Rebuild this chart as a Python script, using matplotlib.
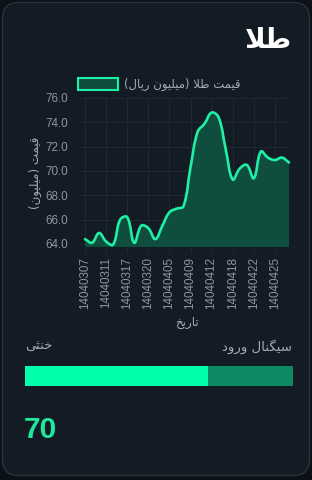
import matplotlib
matplotlib.use("Agg")
import matplotlib.pyplot as plt
from matplotlib.path import Path
from matplotlib.patches import PathPatch, FancyBboxPatch, Rectangle


dates = ["14040307", "14040308", "14040310", "14040311", "14040313", "14040314",
         "14040317", "14040318", "14040319", "14040320", "14040321", "14040401",
         "14040405", "14040406", "14040408", "14040409", "14040410", "14040411",
         "14040412", "14040415", "14040416", "14040418", "14040419", "14040421",
         "14040422", "14040423", "14040424", "14040425", "14040428", "14040429"]
prices = [64.4, 64.1, 64.9, 64.2, 63.95, 66.0, 66.2, 64.1, 65.5, 65.3,
          64.4, 65.5, 66.6, 66.9, 67.1, 70.3, 73.2, 73.9, 74.8, 74.4,
          71.8, 69.3, 70.2, 70.5, 69.4, 71.6, 71.1, 70.9, 71.1, 70.7]
y_ticks = [64, 66, 68, 70, 72, 74, 76]
signal_value = 70
bar_fill = 68.3  # percent of the signal bar that is lit

BG_OUT = "#0c1117"
CARD = "#131b24"
LINE = "#1ef0a4"
FILL = "#0f4e3e"
GRID = "#1f2832"
TICK = "#8c949e"
LABEL = "#a2aab3"

# --- minimal arabic/persian shaping (no bidi lib available) ---
FORMS = {
    "ا": ("\ufe8d", "\ufe8e", None, None),
    "ت": ("\ufe95", "\ufe96", "\ufe97", "\ufe98"),
    "ث": ("\ufe99", "\ufe9a", "\ufe9b", "\ufe9c"),
    "خ": ("\ufea5", "\ufea6", "\ufea7", "\ufea8"),
    "د": ("\ufea9", "\ufeaa", None, None),
    "ر": ("\ufead", "\ufeae", None, None),
    "س": ("\ufeb1", "\ufeb2", "\ufeb3", "\ufeb4"),
    "ط": ("\ufec1", "\ufec2", "\ufec3", "\ufec4"),
    "ق": ("\ufed5", "\ufed6", "\ufed7", "\ufed8"),
    "گ": ("\ufb92", "\ufb93", "\ufb94", "\ufb95"),
    "ل": ("\ufedd", "\ufede", "\ufedf", "\ufee0"),
    "م": ("\ufee1", "\ufee2", "\ufee3", "\ufee4"),
    "ن": ("\ufee5", "\ufee6", "\ufee7", "\ufee8"),
    "و": ("\ufeed", "\ufeee", None, None),
    "ی": ("\ufbfc", "\ufbfd", "\ufbfe", "\ufbff"),
}


def fa(s):
    out = []
    i = 0
    while i < len(s):
        c = s[i]
        prev = s[i - 1] if i > 0 else ""
        jp = prev in FORMS and FORMS[prev][2] is not None
        if c == "ل" and i + 1 < len(s) and s[i + 1] == "ا":
            out.append("\ufefc" if jp else "\ufefb")
            i += 2
            continue
        if c in FORMS:
            iso, fin, ini, med = FORMS[c]
            nxt = s[i + 1] if i + 1 < len(s) else ""
            jn = ini is not None and nxt in FORMS
            if jp and jn:
                g = med
            elif jp:
                g = fin
            elif jn:
                g = ini
            else:
                g = iso
            out.append(g)
        else:
            out.append(c)
        i += 1
    vis = "".join(reversed(out))
    return vis.translate(str.maketrans("()", ")("))


FONT = ["Liberation Sans", "DejaVu Sans"]
plt.rcParams["font.family"] = FONT

W, H = 312, 480
fig = plt.figure(figsize=(W / 100, H / 100), dpi=100, facecolor=BG_OUT)

# background axes in pixel coordinates
bg = fig.add_axes([0, 0, 1, 1])
bg.set_xlim(0, W)
bg.set_ylim(H, 0)
bg.axis("off")
bg.add_patch(FancyBboxPatch((2.5, 2.5), W - 5, H - 7, boxstyle="round,pad=0,rounding_size=16",
                            facecolor=CARD, edgecolor="#2a333e", linewidth=1))

bg.text(292, 40, fa("طلا"), color="white", fontsize=20, fontweight="bold",
        ha="right", va="center", family=["DejaVu Sans"])

# legend
bg.add_patch(Rectangle((78, 78), 40, 12, facecolor=FILL, edgecolor=LINE, linewidth=1.5))
bg.text(124, 84, fa("قیمت طلا (میلیون ریال)"), color=LABEL, fontsize=8.4,
        ha="left", va="center", family=["DejaVu Sans"])

# signal section
bg.text(25, 346, fa("خنثی"), color=LABEL, fontsize=9.5, ha="left", va="center",
        family=["DejaVu Sans"])
bg.text(292, 347, fa("سیگنال ورود"), color=LABEL, fontsize=9.5, ha="right", va="center",
        family=["DejaVu Sans"])
bar_x0, bar_x1 = 25, 293
bg.add_patch(Rectangle((bar_x0, 366), bar_x1 - bar_x0, 20, facecolor="#0b8a63", linewidth=0))
bg.add_patch(Rectangle((bar_x0, 366), (bar_x1 - bar_x0) * bar_fill / 100, 20,
                       facecolor="#00ffaa", linewidth=0))
bg.text(24, 430, str(signal_value), color="#1fe89b", fontsize=21.5, fontweight="bold",
        ha="left", va="center")

# chart axes
left, right, top, bottom = 85, 289, 98, 247
ax = fig.add_axes([left / W, 1 - bottom / H, (right - left) / W, (bottom - top) / H])
ax.set_facecolor(CARD)
n = len(prices)
xs = list(range(n))
ymin, ymax = 63.75, 76
ax.set_xlim(0, n - 1)
ax.set_ylim(ymin, ymax)

# chart.js style smooth curve (tension 0.4), distances in pixel space
sx = (right - left) / (n - 1)
sy = (bottom - top) / (ymax - ymin)
t = 0.4
verts = [(xs[0], prices[0])]
codes = [Path.MOVETO]
cps = []
for i in range(n):
    p0 = (xs[max(i - 1, 0)], prices[max(i - 1, 0)])
    p1 = (xs[i], prices[i])
    p2 = (xs[min(i + 1, n - 1)], prices[min(i + 1, n - 1)])
    d01 = (((p1[0] - p0[0]) * sx) ** 2 + ((p1[1] - p0[1]) * sy) ** 2) ** 0.5
    d12 = (((p2[0] - p1[0]) * sx) ** 2 + ((p2[1] - p1[1]) * sy) ** 2) ** 0.5
    tot = d01 + d12
    s01 = d01 / tot if tot else 0
    s12 = d12 / tot if tot else 0
    cp_prev = (p1[0] - t * s01 * (p2[0] - p0[0]), p1[1] - t * s01 * (p2[1] - p0[1]))
    cp_next = (p1[0] + t * s12 * (p2[0] - p0[0]), p1[1] + t * s12 * (p2[1] - p0[1]))
    cps.append((cp_prev, cp_next))
for i in range(1, n):
    verts += [cps[i - 1][1], cps[i][0], (xs[i], prices[i])]
    codes += [Path.CURVE4] * 3

fill_verts = verts + [(xs[-1], ymin), (xs[0], ymin), (xs[0], prices[0])]
fill_codes = codes + [Path.LINETO, Path.LINETO, Path.CLOSEPOLY]
ax.add_patch(PathPatch(Path(fill_verts, fill_codes), facecolor=FILL, edgecolor="none", zorder=2))
ax.add_patch(PathPatch(Path(verts, codes), facecolor="none", edgecolor=LINE, linewidth=1.9,
                       capstyle="round", joinstyle="round", zorder=3, clip_on=False))

ax.set_yticks(y_ticks)
ax.set_yticklabels([f"{v:.1f}" for v in y_ticks])
ax.set_xticks(xs[::3])
ax.set_xticklabels(dates[::3], rotation=90)
ax.grid(True, color=GRID, linewidth=0.8)
ax.set_axisbelow(True)
for s in ax.spines.values():
    s.set_visible(False)
ax.tick_params(axis="both", colors=GRID, labelcolor=TICK, labelsize=8.4, length=4, width=0.8)
ax.tick_params(axis="y", pad=8)
ax.tick_params(axis="x", pad=3)

ax.set_xlabel(fa("تاریخ"), color=LABEL, fontsize=8.5, family=["DejaVu Sans"], labelpad=5)
ax.set_ylabel(fa("قیمت (میلیون)"), color=LABEL, fontsize=8.5, family=["DejaVu Sans"], labelpad=3)

fig.savefig("out.png", dpi=100, facecolor=BG_OUT)
